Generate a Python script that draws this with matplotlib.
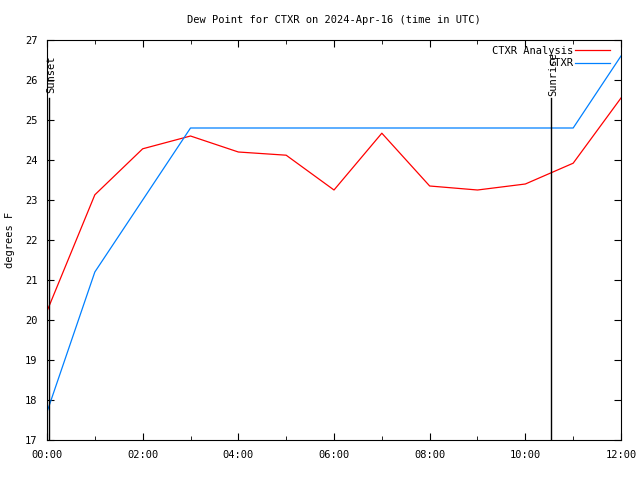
import matplotlib
matplotlib.use("Agg")
import matplotlib.pyplot as plt

hours = [0, 1, 2, 3, 4, 5, 6, 7, 8, 9, 10, 11, 12]
analysis = [20.22, 23.13, 24.28, 24.6, 24.2, 24.12, 23.25, 24.67, 23.35, 23.25, 23.4, 23.92, 25.55]
obs = [17.7, 21.2, 23.0, 24.8, 24.8, 24.8, 24.8, 24.8, 24.8, 24.8, 24.8, 24.8, 26.6]
xticklabels = ["00:00", "02:00", "04:00", "06:00", "08:00", "10:00", "12:00"]
sunset_h = 0.04
sunrise_h = 10.54

plt.rcParams['font.family'] = ['DejaVu Sans Mono']
fig = plt.figure(figsize=(6.4, 4.8), dpi=100)
ax = fig.add_axes([47/640, 40/480, 574/640, 400/480])

ax.plot(hours, analysis, color='#ff0000', lw=0.9, label='CTXR Analysis')
ax.plot(hours, obs, color='#0080ff', lw=0.9, label='CTXR')

ax.plot([sunset_h, sunset_h], [17, 25.55], color='black', lw=1)
ax.plot([sunrise_h, sunrise_h], [17, 25.55], color='black', lw=1)
ax.text(sunset_h + 0.04, 26.15, 'Sunset', rotation=90, ha='center', va='center', fontsize=7.5)
ax.text(sunrise_h + 0.04, 26.15, 'Sunrise', rotation=90, ha='center', va='center', fontsize=7.5)

ax.set_xlim(0, 12)
ax.set_ylim(17, 27)
ax.set_xticks(range(0, 13, 2))
ax.set_xticklabels(xticklabels)
ax.set_xticks(range(0, 13), minor=True)
ax.set_yticks(range(17, 28))
ax.tick_params(direction='in', top=True, right=True, labelsize=7.5, length=5, pad=7)
ax.tick_params(which='minor', direction='in', top=True, right=True, length=3)
ax.set_ylabel('degrees F', fontsize=7.5, labelpad=7)
ax.set_title('Dew Point for CTXR on 2024-Apr-16 (time in UTC)', fontsize=7.5, pad=12)

leg = ax.legend(loc='upper right', frameon=False, markerfirst=False, fontsize=7.5,
                handlelength=3.3, borderaxespad=0.0, borderpad=0.55, labelspacing=0.25,
                handletextpad=0.2, bbox_to_anchor=(0.99, 1.0))

fig.savefig('out.png', dpi=100)
